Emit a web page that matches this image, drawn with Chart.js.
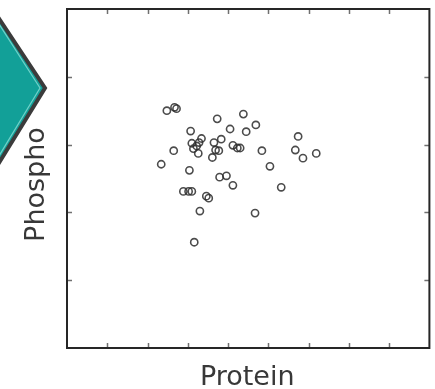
<!DOCTYPE html>
<html>
<head>
<meta charset="utf-8">
<script src="https://cdn.jsdelivr.net/npm/chart.js@4.4.1/dist/chart.umd.min.js"></script>
<style>
  html, body { margin: 0; padding: 0; background: #fff; overflow: hidden; }
  #wrap { position: relative; width: 435px; height: 389px; }
</style>
</head>
<body>
<div id="wrap"><canvas id="chart" width="435" height="389"></canvas></div>
<script>
// ── Data ────────────────────────────────────────────────────────────
const proteinValues = [
  2.48, 2.67, 2.72, 3.73, 4.38, 3.07, 4.05, 4.45, 4.69, 5.74,
  2.65, 2.34, 3.34, 3.28, 3.22, 3.14, 3.26, 3.10, 3.65, 3.83,
  3.69, 3.77, 3.61, 4.12, 4.23, 4.30, 4.84, 5.04, 5.67, 5.86,
  6.19, 3.04, 3.79, 3.96, 4.12, 5.32, 2.89, 3.02, 3.10, 3.46,
  3.52, 3.30, 4.67, 3.16
];
const phosphoValues = [
  3.50, 3.55, 3.53, 3.38, 3.45, 3.20, 3.23, 3.19, 3.29, 3.12,
  2.91, 2.71, 3.09, 3.03, 2.98, 2.94, 2.87, 3.02, 3.03, 3.08,
  2.92, 2.91, 2.81, 2.99, 2.95, 2.95, 2.91, 2.68, 2.92, 2.80,
  2.87, 2.62, 2.52, 2.54, 2.40, 2.37, 2.31, 2.31, 2.31, 2.24,
  2.21, 2.02, 1.99, 1.56
];
const xTicks = [1, 2, 3, 4, 5, 6, 7, 8];
const yTicks = [1, 2, 3, 4];
const xTitle = "Protein";
const yTitle = "Phospho";

const points = proteinValues.map(function (x, i) { return { x: x, y: phosphoValues[i] }; });

// ── Frame, inward ticks, axis titles, teal chevron ──────────────────
const framePlugin = {
  id: "frame",
  afterDraw: function (chart) {
    const ctx = chart.ctx;
    const a = chart.chartArea;
    const xs = chart.scales.x;
    const ys = chart.scales.y;
    ctx.save();

    // ticks pointing inward on all four sides
    ctx.strokeStyle = "#707070";
    ctx.lineWidth = 1.5;
    const len = 5;
    xTicks.forEach(function (v) {
      const px = Math.round(xs.getPixelForValue(v)) + 0.5;
      ctx.beginPath();
      ctx.moveTo(px, a.bottom); ctx.lineTo(px, a.bottom - len);
      ctx.moveTo(px, a.top); ctx.lineTo(px, a.top + len);
      ctx.stroke();
    });
    yTicks.forEach(function (v) {
      const py = Math.round(ys.getPixelForValue(v)) + 0.5;
      ctx.beginPath();
      ctx.moveTo(a.left, py); ctx.lineTo(a.left + len, py);
      ctx.moveTo(a.right, py); ctx.lineTo(a.right - len, py);
      ctx.stroke();
    });

    // frame
    ctx.strokeStyle = "#262626";
    ctx.lineWidth = 2;
    ctx.strokeRect(a.left, a.top, a.right - a.left, a.bottom - a.top);

    // axis titles
    ctx.fillStyle = "#383838";
    ctx.font = "27px 'DejaVu Sans'";
    ctx.textAlign = "center";
    ctx.textBaseline = "alphabetic";
    ctx.fillText(xTitle, (a.left + a.right) / 2 - 1, 385);
    ctx.save();
    ctx.translate(44, (a.top + a.bottom) / 2 + 6);
    ctx.rotate(-Math.PI / 2);
    ctx.fillText(yTitle, 0, 0);
    ctx.restore();

    // chevron on the left edge (decoration)
    ctx.beginPath();
    ctx.moveTo(-30, -25);
    ctx.lineTo(45, 88);
    ctx.lineTo(-30, 210);
    ctx.closePath();
    ctx.fillStyle = "#12a098";
    ctx.fill();
    ctx.lineJoin = "miter";
    ctx.strokeStyle = "#3b3b3b";
    ctx.lineWidth = 4;
    ctx.stroke();
    ctx.beginPath();
    ctx.moveTo(-30, -21);
    ctx.lineTo(40, 88);
    ctx.lineTo(-30, 204);
    ctx.strokeStyle = "#6fd0c8";
    ctx.lineWidth = 1.2;
    ctx.stroke();

    ctx.restore();
  }
};

new Chart(document.getElementById("chart").getContext("2d"), {
  type: "scatter",
  data: {
    datasets: [{
      data: points,
      pointStyle: "circle",
      pointRadius: 3.6,
      borderWidth: 1.6,
      borderColor: "rgba(45, 45, 45, 0.85)",
      backgroundColor: "rgba(0, 0, 0, 0)",
    }],
  },
  options: {
    responsive: false,
    animation: false,
    layout: { padding: { top: 9, right: 1, left: 67, bottom: 41 } },
    plugins: {
      legend: { display: false },
      tooltip: { enabled: false },
    },
    scales: {
      x: { type: "linear", min: 0, max: 9, display: false },
      y: { type: "linear", min: 0, max: 5, display: false },
    },
  },
  plugins: [framePlugin],
});
</script>
</body>
</html>
